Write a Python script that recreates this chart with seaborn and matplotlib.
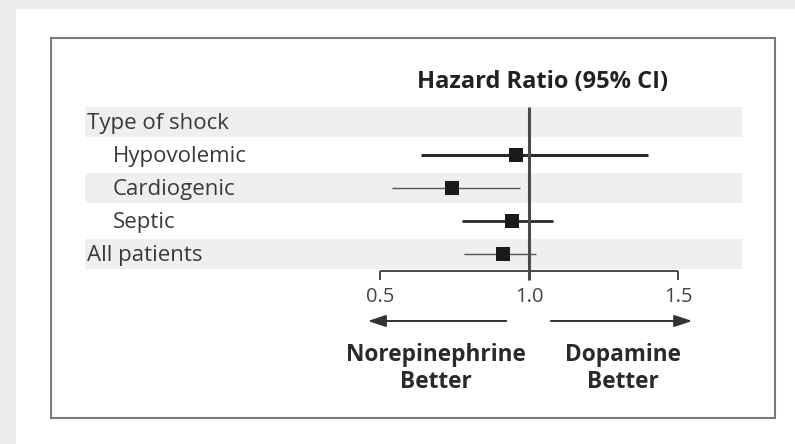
import matplotlib
matplotlib.use("Agg")
import matplotlib.pyplot as plt
from matplotlib.patches import Rectangle
import seaborn as sns
import pandas as pd
import numpy as np

# data
row_labels = ["Type of shock", "Hypovolemic", "Cardiogenic", "Septic", "All patients"]
indent = [False, True, True, True, False]
hazard_ratio = [np.nan, 0.956, 0.743, 0.943, 0.913]
ci_low = [np.nan, 0.638, 0.540, 0.775, 0.782]
ci_high = [np.nan, 1.400, 0.970, 1.080, 1.022]
tick_values = [0.5, 1.0, 1.5]
tick_labels = ["0.5", "1.0", "1.5"]
left_note = ["Norepinephrine", "Better"]
right_note = ["Dopamine", "Better"]

sns.set_theme(style="white")
plt.rcParams["font.family"] = ["Open Sans", "DejaVu Sans"]

W, H = 795, 444
fig = plt.figure(figsize=(W / 100, H / 100), dpi=100)
fig.patch.set_facecolor("white")


def fx(px):
    return px / W


def fy(py):
    return 1 - py / H


# gray page strips and framed box
fig.patches.append(Rectangle((0, 0), fx(16), 1, transform=fig.transFigure,
                             facecolor="#ececec", edgecolor="none", zorder=0))
fig.patches.append(Rectangle((0, fy(9)), 1, 1 - fy(9), transform=fig.transFigure,
                             facecolor="#ececec", edgecolor="none", zorder=0))
fig.patches.append(Rectangle((fx(51), fy(418)), fx(775) - fx(51), fy(38) - fy(418),
                             transform=fig.transFigure, facecolor="none",
                             edgecolor="#7a7a7a", linewidth=1.5, zorder=1))

# axes mapped so that x=1 sits at pixel 529, 298 px per unit, rows 33 px apart
ax_left, ax_right, ax_top, ax_bot = 85, 742, 90, 300
ax = fig.add_axes([fx(ax_left), fy(ax_bot), fx(ax_right) - fx(ax_left), fy(ax_top) - fy(ax_bot)])
ax.set_xlim(1 + (ax_left - 529) / 298, 1 + (ax_right - 529) / 298)
ax.set_ylim((ax_bot - 122) / 33, (ax_top - 122) / 33)
ax.axis("off")

df = pd.DataFrame({"label": row_labels, "hr": hazard_ratio, "lo": ci_low,
                   "hi": ci_high, "row": np.arange(len(row_labels))})

# alternate shading
for r in df["row"]:
    if r % 2 == 0:
        ax.axhspan(r - 0.46, r + 0.46, color="#efefef", zorder=0, lw=0)

# confidence intervals
ci_widths = [0, 2.2, 1.0, 2.0, 1.0]
ci_colors = ["#222", "#2a2a2a", "#555555", "#2a2a2a", "#555555"]
for _, d in df.dropna().iterrows():
    r = int(d["row"])
    ax.hlines(r, d["lo"], d["hi"], color=ci_colors[r], lw=ci_widths[r], zorder=2)

# reference line and axis
ax.vlines(1.0, -0.45, 4.79, color="#4a4a4a", lw=2.2, zorder=3)
ax.hlines(4.515, tick_values[0], tick_values[-1], color="#4a4a4a", lw=1.4, zorder=3)
for t in (tick_values[0], tick_values[-1]):
    ax.vlines(t, 4.515, 4.79, color="#4a4a4a", lw=1.4, zorder=3)

sns.scatterplot(data=df.dropna(), x="hr", y="row", marker="s", s=110,
                color="#1a1a1a", edgecolor="#1a1a1a", linewidth=0, zorder=4,
                ax=ax, legend=False)
ax.axis("off")

# row labels
for _, d in df.iterrows():
    r = int(d["row"])
    x0 = 1 + ((113 if indent[r] else 87) - 529) / 298
    ax.text(x0, r + 0.05, d["label"], ha="left", va="center", fontsize=16,
            color="#3a3a3a", zorder=5)

# tick labels
for t, lab in zip(tick_values, tick_labels):
    ax.text(t, 5.30, lab, ha="center", va="center", fontsize=14.5,
            color="#444444", clip_on=False)

ax.text(1.047, -1.21, "Hazard Ratio (95% CI)", ha="center", va="center",
        fontsize=17, fontweight="bold", color="#222222", clip_on=False)

# direction arrows
arrow_kw = dict(arrowstyle="-|>,head_length=0.9,head_width=0.3", color="#333333", lw=1.4)
ax.annotate("", xy=(0.450, 6.03), xytext=(0.933, 6.03), arrowprops=arrow_kw,
            annotation_clip=False)
ax.annotate("", xy=(1.557, 6.03), xytext=(1.064, 6.03), arrowprops=arrow_kw,
            annotation_clip=False)

for xc, lines in ((0.688, left_note), (1.315, right_note)):
    for yv, s in zip((7.06, 7.88), lines):
        ax.text(xc, yv, s, ha="center", va="center", fontsize=16.3,
                fontweight="bold", color="#2a2a2a", clip_on=False)

fig.savefig("out.png", dpi=100)
